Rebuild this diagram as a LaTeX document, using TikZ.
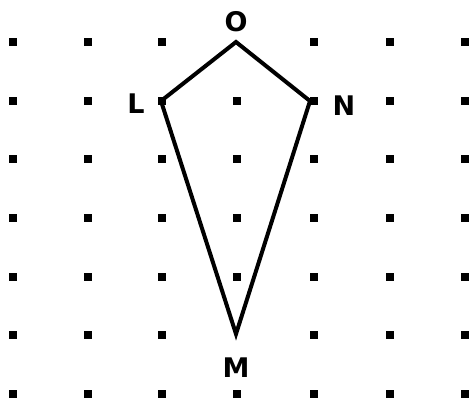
\documentclass[tikz,border=0pt]{standalone}
\usepackage{fontspec}
\setmainfont{DejaVu Sans}
\begin{document}
\begin{tikzpicture}[x=1pt,y=-1pt,
  gdot/.style={fill=black,minimum size=8pt,inner sep=0pt,draw=none,rectangle},
  lbl/.style={font=\bfseries\fontsize{27}{27}\selectfont,inner sep=0pt},
  edge/.style={line width=4pt,line join=miter}]
\useasboundingbox[fill=white] (0,0) rectangle (469,400);
\foreach \x [count=\i] in {13,88,162,237,314,390,465}{
  \foreach \y [count=\j] in {42,101,159,218,277,335,394}{
    \pgfmathtruncatemacro{\skip}{(\i==4 && (\j==1 || \j==6)) ? 1 : 0}
    \ifnum\skip=0
      \node[gdot] (d\i-\j) at (\x,\y) {};
    \fi
  }
}
\coordinate (O) at (236,42);
\coordinate (L) at (161,101);
\coordinate (N) at (310,101);
\coordinate (M) at (236,334);
\draw[edge] (L) -- (O) -- (N) -- (M) -- cycle;
\node[lbl] (lO) at (236,22) {O};
\node[lbl] (lL) at (136,104) {L};
\node[lbl] (lN) at (344,106) {N};
\node[lbl] (lM) at (236,368) {M};
\end{tikzpicture}
\end{document}
